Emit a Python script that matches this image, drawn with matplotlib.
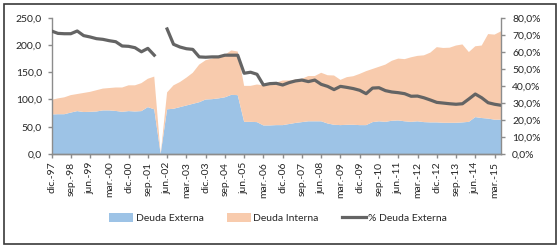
import numpy as np
import matplotlib
matplotlib.use("Agg")
import matplotlib.pyplot as plt
from matplotlib.patches import Patch, Rectangle
from matplotlib.lines import Line2D
from matplotlib.ticker import FuncFormatter, MultipleLocator

plt.rcParams['font.family'] = ['Lato', 'DejaVu Sans']

deuda_externa = [72.6, 73, 73, 76, 78.7, 77, 77.4, 78, 80, 80, 79, 77.4, 78.7, 78, 78.7, 86, 82,
                 0,
                 82, 83, 86, 89, 92, 95, 100, 100.6, 102, 104, 108.5, 108,
                 59, 59, 58.5, 52.4, 52.4, 53, 53, 55, 57, 58.5, 60, 60, 60, 56, 53.6, 53, 53.6, 53.6,
                 53, 53, 58.5, 60, 59, 61, 61.6, 60, 59, 60, 58.5, 58, 58, 57.3, 57.3, 57.3, 58, 59,
                 67.7, 66, 65, 63, 63]
deuda_interna = [26.8, 29, 31, 32, 31.3, 35, 36.6, 39, 40, 41, 43, 44.6, 47.3, 48, 51.3, 52, 60,
                 0,
                 31, 43, 46, 51, 57, 69, 72, 74.4, 77, 78, 81.5, 80,
                 66, 66, 69, 73.6, 75.6, 78, 81.8, 80, 79.6, 79.5, 83, 83, 89, 88.5, 90.4, 83, 87.4, 89.1,
                 94, 99, 97.5, 100, 105, 110, 113.4, 114, 118.4, 120, 122.5, 128, 138, 137.2, 137.7, 141.7, 143, 128,
                 129.9, 133, 155, 156, 162]
pct_externa = [72.2, 70.8, 70.6, 70.6, 72.2, 69.5, 68.7, 67.7, 67.3, 66.5, 65.9, 63.4, 63.2, 62.4, 60.0, 62.0, 58.0,
               np.nan,
               73.4, 64.4, 62.8, 61.8, 61.4, 57.0, 56.8, 57.0, 57.0, 58.0, 58.0, 58.0,
               47.4, 48.0, 46.8, 40.5, 41.3, 41.5, 40.5, 41.9, 42.9, 43.4, 42.5, 43.4, 40.9, 39.7, 37.8, 39.7, 39.1, 38.4,
               37.4, 35.4, 38.7, 38.9, 37.2, 36.4, 36.0, 35.4, 33.9, 34.0, 33.0, 31.7, 30.3, 29.9, 29.5, 29.2, 29.5, 32.3,
               35.2, 33.0, 30.1, 29.2, 28.6]
tick_labels = ["dic.-97", "sep.-98", "jun.-99", "mar.-00", "dic.-00", "sep.-01", "jun.-02", "mar.-03",
               "dic.-03", "sep.-04", "jun.-05", "mar.-06", "dic.-06", "sep.-07", "jun.-08", "mar.-09",
               "dic.-09", "sep.-10", "jun.-11", "mar.-12", "dic.-12", "sep.-13", "jun.-14", "mar.-15"]

c_blue = "#9DC3E6"
c_orange = "#F8CBAD"
c_line = "#646464"
c_axis = "#8C8C8C"
c_text = "#262626"

fig = plt.figure(figsize=(5.6, 2.48), dpi=100)
fig.patch.set_facecolor("white")
fig.patches.append(Rectangle((0.008, 0.018), 0.984, 0.964, transform=fig.transFigure,
                             fill=False, edgecolor="#3a3a3a", linewidth=1.2))

ax = fig.add_axes([0.092, 0.379, 0.8026, 0.5496])
x = np.arange(len(deuda_externa))
ax.stackplot(x, deuda_externa, deuda_interna, colors=[c_blue, c_orange], linewidth=0)
ax.set_xlim(0, len(x) - 1)
ax.set_ylim(0, 250)
ax.yaxis.set_major_locator(MultipleLocator(50))
ax.yaxis.set_major_formatter(FuncFormatter(lambda v, p: f"{v:.1f}".replace(".", ",")))
ax.set_xticks(np.arange(0, len(x), 3)[:len(tick_labels)])
ax.set_xticklabels(tick_labels, rotation=90)

ax2 = ax.twinx()
ax2.plot(x, pct_externa, color=c_line, linewidth=2.3)
ax2.set_ylim(0, 80)
ax2.yaxis.set_major_locator(MultipleLocator(10))
ax2.yaxis.set_major_formatter(FuncFormatter(lambda v, p: f"{v:.1f}%".replace(".", ",")))

for a in (ax, ax2):
    a.spines['top'].set_visible(False)
    for s in ('left', 'right', 'bottom'):
        a.spines[s].set_color(c_axis)
        a.spines[s].set_linewidth(1.0)
    a.tick_params(colors=c_axis, labelcolor=c_text, labelsize=7.5, length=3, width=1.0, pad=3)
ax.spines['right'].set_visible(False)
ax2.spines['left'].set_visible(False)
ax.tick_params(axis='x', pad=2.5)
ax.tick_params(axis='y', pad=4)
ax2.tick_params(axis='y', pad=5)

handles = [Patch(facecolor=c_blue, edgecolor='none'),
           Patch(facecolor=c_orange, edgecolor='none'),
           Line2D([0], [0], color=c_line, linewidth=2.3)]
fig.legend(handles, ["Deuda Externa", "Deuda Interna", "% Deuda Externa"],
           loc='center', bbox_to_anchor=(0.497, 0.121), ncol=3, frameon=False,
           fontsize=7.5, handlelength=2.3, handleheight=0.9, handletextpad=0.25,
           columnspacing=2.2, labelcolor=c_text)

fig.savefig("out.png", dpi=100, facecolor="white")
